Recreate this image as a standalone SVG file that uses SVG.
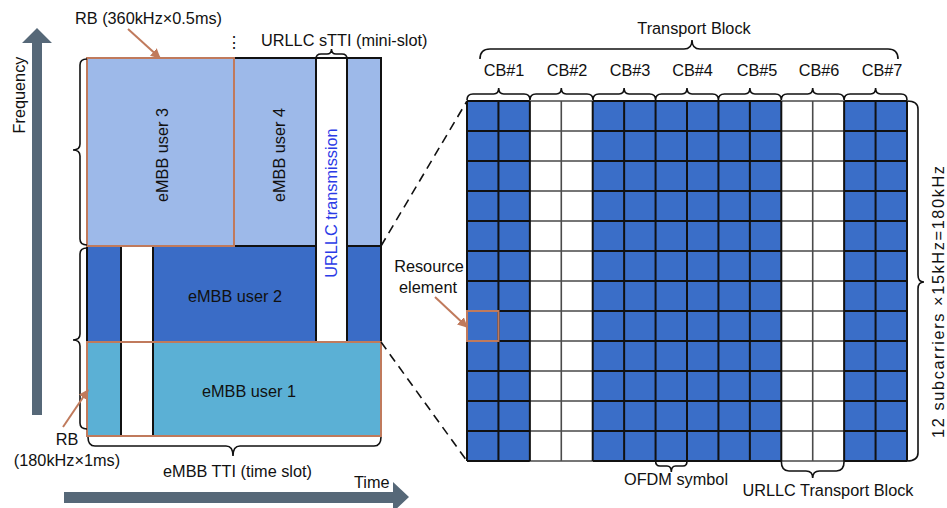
<svg xmlns="http://www.w3.org/2000/svg" width="947" height="508" viewBox="0 0 947 508">
<style>
text{font-family:"Liberation Sans",Arial,sans-serif;font-size:16.3px;fill:#111}
.br{fill:none;stroke:#111;stroke-width:1.6}
.blk{fill:none;stroke:#111;stroke-width:2}
.gry{fill:none;stroke:#4a4a4a;stroke-width:1.6}
.org{fill:none;stroke:#C07A5C;stroke-width:2}
.dash{fill:none;stroke:#111;stroke-width:1.6;stroke-dasharray:9 6}
.bar{fill:#566878}
.lb{fill:#9DB9E9}
.db{fill:#3A6CC6}
.cy{fill:#5BB0D5}
.gb{fill:#3A6EC8}
</style>
<defs>
<marker id="oa" viewBox="0 0 10 10" refX="9" refY="5" markerWidth="10" markerHeight="10" markerUnits="userSpaceOnUse" orient="auto">
<path d="M0,0 L10,5 L0,10 Z" fill="#C07A5C"/>
</marker>
</defs>

<g id="axes">
<path class="bar" d="M32,415 V43 H22 L37,28 L52,43 H42 V415 Z"/>
<text transform="translate(25,95) rotate(-90)" text-anchor="middle">Frequency</text>
<path class="bar" d="M64,492 H393 V482 L409,497 L393,512 V503 H64 Z"/>
<text x="354" y="488">Time</text>
</g>

<g id="resource-map">
<rect class="lb" x="87" y="58" width="294" height="188" stroke="#111" stroke-width="2"/>
<rect class="db" x="87" y="246" width="294" height="96" stroke="#111" stroke-width="2"/>
<rect class="cy" x="87" y="342" width="294" height="94"/>
<rect x="121" y="246" width="32" height="190" fill="#fff" stroke="#111" stroke-width="2"/>
<rect x="316" y="58" width="31" height="284" fill="#fff" stroke="#111" stroke-width="2"/>
</g>

<g id="embb-user3">
<rect class="org" x="87" y="58" width="147" height="188"/>
<text transform="translate(168,155) rotate(-90)" text-anchor="middle">eMBB user 3</text>
</g>
<g id="embb-user4">
<text transform="translate(285,155) rotate(-90)" text-anchor="middle">eMBB user 4</text>
</g>
<g id="urllc-transmission">
<text transform="translate(337,203) rotate(-90)" text-anchor="middle" style="fill:#2B3BE6">URLLC transmission</text>
</g>
<g id="embb-user2">
<text x="235" y="301.5" text-anchor="middle">eMBB user 2</text>
</g>
<g id="embb-user1">
<rect class="org" x="87" y="342" width="294" height="94"/>
<text x="249" y="396.5" text-anchor="middle">eMBB user 1</text>
</g>

<g id="left-labels">
<text x="75" y="24">RB (360kHz×0.5ms)</text>
<text x="234" y="48" text-anchor="middle" font-size="12">⋮</text>
<text x="261" y="46">URLLC sTTI (mini-slot)</text>
<text x="67" y="445" text-anchor="middle">RB</text>
<text x="67" y="466" text-anchor="middle">(180kHz×1ms)</text>
<text x="237.5" y="477" text-anchor="middle">eMBB TTI (time slot)</text>
</g>

<g id="rb-grid">
<rect class="gb" x="467" y="101" width="62.86" height="360"/>
<rect x="529.86" y="101" width="62.85" height="360" fill="#fff"/>
<rect class="gb" x="592.71" y="101" width="188.58" height="360"/>
<rect x="781.29" y="101" width="62.85" height="360" fill="#fff"/>
<rect class="gb" x="844.14" y="101" width="62.86" height="360"/>
<path class="gry" d="M529.86,101H592.71M529.86,131H592.71M529.86,161H592.71M529.86,191H592.71M529.86,221H592.71M529.86,251H592.71M529.86,281H592.71M529.86,311H592.71M529.86,341H592.71M529.86,371H592.71M529.86,401H592.71M529.86,431H592.71M529.86,461H592.71
M781.29,101H844.14M781.29,131H844.14M781.29,161H844.14M781.29,191H844.14M781.29,221H844.14M781.29,251H844.14M781.29,281H844.14M781.29,311H844.14M781.29,341H844.14M781.29,371H844.14M781.29,401H844.14M781.29,431H844.14M781.29,461H844.14
M561.29,101V461M812.71,101V461"/>
<path class="blk" d="M467,101H529.86M592.71,101H781.29M844.14,101H907
M467,131H529.86M592.71,131H781.29M844.14,131H907
M467,161H529.86M592.71,161H781.29M844.14,161H907
M467,191H529.86M592.71,191H781.29M844.14,191H907
M467,221H529.86M592.71,221H781.29M844.14,221H907
M467,251H529.86M592.71,251H781.29M844.14,251H907
M467,281H529.86M592.71,281H781.29M844.14,281H907
M467,311H529.86M592.71,311H781.29M844.14,311H907
M467,341H529.86M592.71,341H781.29M844.14,341H907
M467,371H529.86M592.71,371H781.29M844.14,371H907
M467,401H529.86M592.71,401H781.29M844.14,401H907
M467,431H529.86M592.71,431H781.29M844.14,431H907
M467,461H529.86M592.71,461H781.29M844.14,461H907
M467,101V461M498.43,101V461M529.86,101V461M592.71,101V461M624.14,101V461M655.57,101V461M687,101V461M718.43,101V461M749.86,101V461M781.29,101V461M844.14,101V461M875.57,101V461M907,101V461"/>
</g>

<g id="resource-element">
<rect class="org" x="467" y="311" width="31.43" height="30"/>
<text x="429" y="271.5" text-anchor="middle">Resource</text>
<text x="428" y="293" text-anchor="middle">element</text>
</g>

<g id="grid-labels">
<text x="694" y="34" text-anchor="middle">Transport Block</text>
<text x="504" y="76" text-anchor="middle">CB#1</text>
<text x="567" y="76" text-anchor="middle">CB#2</text>
<text x="630" y="76" text-anchor="middle">CB#3</text>
<text x="692.5" y="76" text-anchor="middle">CB#4</text>
<text x="757" y="76" text-anchor="middle">CB#5</text>
<text x="819" y="76" text-anchor="middle">CB#6</text>
<text x="882" y="76" text-anchor="middle">CB#7</text>
<text x="676" y="485" text-anchor="middle">OFDM symbol</text>
<text x="828" y="496" text-anchor="middle">URLLC Transport Block</text>
<text transform="translate(944,302) rotate(-90)" text-anchor="middle" textLength="272" lengthAdjust="spacing">12 subcarriers ×15kHz=180kHz</text>
</g>

<g id="connectors">
<path class="br" d="M87,59 Q80,59 80,65 L80,144 Q80,150 73,150 Q80,150 80,156 L80,239 Q80,245 87,245"/>
<path class="br" d="M87,248 Q80,248 80,254 L80,334 Q80,340 73,340 Q80,340 80,346 L80,423 Q80,429 87,429"/>
<path class="br" d="M88,437 Q88,446 95,446 L226,446 Q233,446 233,456 Q233,446 240,446 L374,446 Q381,446 381,437"/>
<path class="br" d="M316,59 Q316,54 321,54 L327,54 Q331.5,54 331.5,49 Q331.5,54 336,54 L342,54 Q347,54 347,59"/>
<path class="br" d="M480,59 Q480,49 490,49 L684,49 Q692,49 692,40 Q692,49 700,49 L888,49 Q898,49 898,59"/>
<path class="br" d="M467,100 Q467,94 473,94 L493.7,94 Q498.7,94 498.7,88 Q498.7,94 503.7,94 L524,94 Q530,94 530,100
M530,100 Q530,94 536,94 L556.3,94 Q561.3,94 561.3,88 Q561.3,94 566.3,94 L587,94 Q593,94 593,100
M593,100 Q593,94 599,94 L619.1,94 Q624.1,94 624.1,88 Q624.1,94 629.1,94 L649.6,94 Q655.6,94 655.6,100
M655.6,100 Q655.6,94 661.6,94 L682,94 Q687,94 687,88 Q687,94 692,94 L712.4,94 Q718.4,94 718.4,100
M718.4,100 Q718.4,94 724.4,94 L744.9,94 Q749.9,94 749.9,88 Q749.9,94 754.9,94 L775.3,94 Q781.3,94 781.3,100
M781.3,100 Q781.3,94 787.3,94 L807.7,94 Q812.7,94 812.7,88 Q812.7,94 817.7,94 L838.1,94 Q844.1,94 844.1,100
M844.1,100 Q844.1,94 850.1,94 L870.6,94 Q875.6,94 875.6,88 Q875.6,94 880.6,94 L901,94 Q907,94 907,100"/>
<path class="br" d="M907,101 Q918,101 918,109 L918,275 Q918,282 924,282 Q918,282 918,289 L918,453 Q918,461 907,461"/>
<path class="br" d="M655.6,461 Q655.6,466 660,466 L667,466 Q671.3,466 671.3,472 Q671.3,466 675.6,466 L683,466 Q687,466 687,461"/>
<path class="br" d="M781.3,461 Q781.3,471 789,471 L806,471 Q812.7,471 812.7,478 Q812.7,471 819.4,471 L836.4,471 Q844.1,471 844.1,461"/>
<path class="dash" d="M381,246 L467,101"/>
<path class="dash" d="M381,342 L467,461"/>
<path fill="none" stroke="#C07A5C" stroke-width="2" marker-end="url(#oa)" d="M128,29 L160,58"/>
<path fill="none" stroke="#C07A5C" stroke-width="2" marker-end="url(#oa)" d="M63,427 L88,390"/>
<path fill="none" stroke="#C07A5C" stroke-width="2" marker-end="url(#oa)" d="M435,297 L467,327"/>
</g>
</svg>
